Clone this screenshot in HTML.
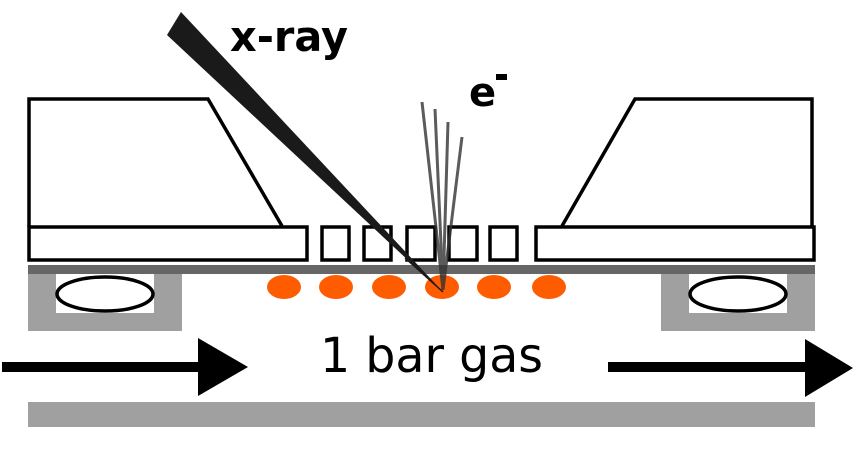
<!DOCTYPE html>
<html><head><style>html,body{margin:0;padding:0;background:#fff}svg{display:block}</style></head><body>
<svg width="856" height="449" viewBox="0 0 856 449" xmlns="http://www.w3.org/2000/svg">
<rect x="28" y="274" width="154" height="57" fill="#a0a0a0"/>
<rect x="56" y="274" width="98" height="39" fill="#fff"/>
<ellipse cx="105" cy="294" rx="48" ry="17" fill="#fff" stroke="#000" stroke-width="3.5"/>
<rect x="661" y="274" width="154" height="57" fill="#a0a0a0"/>
<rect x="689" y="274" width="98" height="39" fill="#fff"/>
<ellipse cx="738" cy="294" rx="48" ry="17" fill="#fff" stroke="#000" stroke-width="3.5"/>
<rect x="28" y="265" width="787" height="9" fill="#666"/>
<rect x="28" y="402" width="787" height="25" fill="#a0a0a0"/>
<g fill="#fff" stroke="#000" stroke-width="3.5" stroke-linejoin="miter">
<polyline points="29,227 29,99 208,99 282,226" fill="none"/>
<polyline points="812,227 812,99 635,99 562,226" fill="none"/>
<rect x="29" y="227" width="278" height="33"/>
<rect x="536" y="227" width="278" height="33"/>
<rect x="322" y="227" width="27" height="33"/>
<rect x="364" y="227" width="27" height="33"/>
<rect x="407" y="227" width="28" height="33"/>
<rect x="449" y="227" width="28" height="33"/>
<rect x="490" y="227" width="27" height="33"/>
</g>
<g fill="#ff5c00">
<ellipse cx="284" cy="287" rx="17" ry="12"/>
<ellipse cx="336" cy="287" rx="17" ry="12"/>
<ellipse cx="389" cy="287" rx="17" ry="12"/>
<ellipse cx="442" cy="287" rx="17" ry="12"/>
<ellipse cx="494" cy="287" rx="17" ry="12"/>
<ellipse cx="549" cy="287" rx="17" ry="12"/>
</g>
<polygon points="167,35 181,12 415,262 443,292 411,263" fill="#1a1a1a"/>
<line x1="405" y1="258" x2="443" y2="292" stroke="#1a1a1a" stroke-width="1.5"/>
<g stroke="#333" stroke-width="3" fill="none" opacity="0.8">
<line x1="443" y1="290" x2="422" y2="102"/>
<line x1="443" y1="290" x2="435" y2="109"/>
<line x1="443" y1="290" x2="448" y2="122"/>
<line x1="443" y1="290" x2="462" y2="137"/>
</g>
<rect x="2" y="362" width="198" height="10" fill="#000"/>
<polygon points="198,338 248,367 198,396" fill="#000"/>
<rect x="608" y="362" width="199" height="10" fill="#000"/>
<polygon points="805,339 853,368 805,397" fill="#000"/>
<text x="230" y="51" font-family="DejaVu Sans, Liberation Sans, sans-serif" font-weight="bold" font-size="42" textLength="118" lengthAdjust="spacingAndGlyphs">x-ray</text>
<text x="469" y="106" font-family="DejaVu Sans, Liberation Sans, sans-serif" font-weight="bold" font-size="40">e</text>
<rect x="496" y="74" width="11" height="6" fill="#000"/>
<text x="320" y="372" font-family="DejaVu Sans, Liberation Sans, sans-serif" font-size="48" textLength="223" lengthAdjust="spacingAndGlyphs">1 bar gas</text>
</svg>
</body></html>
